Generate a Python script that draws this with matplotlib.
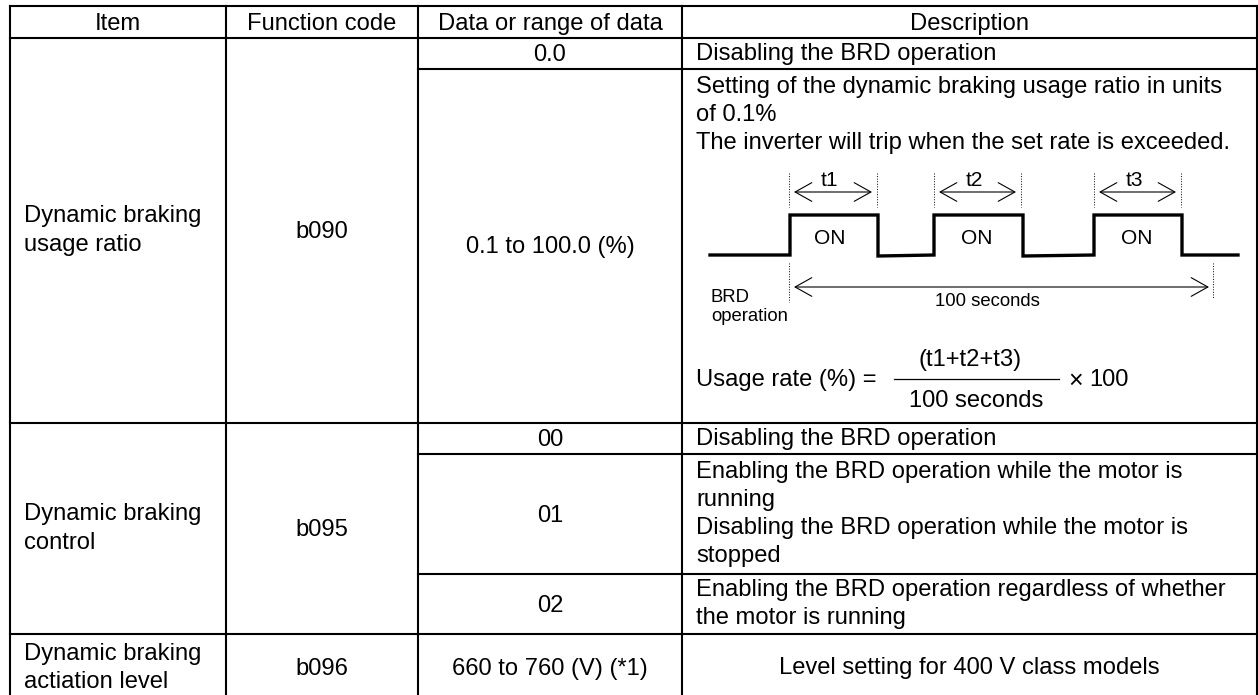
import matplotlib
matplotlib.use("Agg")
import matplotlib.pyplot as plt

# table grid, pixel positions
col_x = [10, 226, 418, 682, 1257]
row_y = [6, 38, 69, 423, 454, 574, 634, 702]

headers = ["Item", "Function code", "Data or range of data", "Description"]
items = ["Dynamic braking\nusage ratio", "Dynamic braking\ncontrol", "Dynamic braking\nactiation level"]
codes = ["b090", "b095", "b096"]
ranges = ["0.0", "0.1 to 100.0 (%)", "00", "01", "02", "660 to 760 (V) (*1)"]
desc = ["Disabling the BRD operation",
        "Setting of the dynamic braking usage ratio in units\nof 0.1%\nThe inverter will trip when the set rate is exceeded.",
        "Disabling the BRD operation",
        "Enabling the BRD operation while the motor is\nrunning\nDisabling the BRD operation while the motor is\nstopped",
        "Enabling the BRD operation regardless of whether\nthe motor is running"]
last_desc = "Level setting for 400 V class models"

# pulse diagram
wave_x = [710, 790, 790, 878, 878, 934, 934, 1023, 1023, 1094, 1094, 1182, 1182, 1238]
wave_y = [255, 255, 215, 215, 256, 255, 215, 215, 256, 255, 215, 215, 255, 255]
pulses = [("t1", 789, 877, 829, 830), ("t2", 934, 1021, 974, 977), ("t3", 1094, 1181, 1134, 1137)]

plt.rcParams['font.family'] = ['Liberation Sans', 'DejaVu Sans']
fig = plt.figure(figsize=(12.58, 6.95), dpi=100)
ax = fig.add_axes([0, 0, 1, 1])
ax.set_xlim(0, 1258)
ax.set_ylim(695, 0)
ax.axis("off")

fs = 17.1
lw = 1.5
spacing = 1.36

ax.plot([col_x[0], col_x[-1]], [row_y[0], row_y[0]], color="black", lw=lw)
ax.plot([col_x[0], col_x[-1]], [row_y[1], row_y[1]], color="black", lw=lw)
for x in col_x:
    ax.plot([x, x], [row_y[0], row_y[-1]], color="black", lw=lw)
for y in [row_y[3], row_y[6]]:
    ax.plot([col_x[0], col_x[-1]], [y, y], color="black", lw=lw)
for y in [row_y[2], row_y[4], row_y[5]]:
    ax.plot([col_x[2], col_x[-1]], [y, y], color="black", lw=lw)

for i, h in enumerate(headers):
    ax.text((col_x[i] + col_x[i + 1]) / 2, 24, h, ha="center", va="center", fontsize=fs)

item_rows = [(row_y[1], row_y[3]), (row_y[3], row_y[6]), (row_y[6], row_y[7])]
for i in range(3):
    mid = sum(item_rows[i]) / 2
    ax.text(24, mid, items[i], ha="left", va="center", fontsize=fs, linespacing=spacing)
    ax.text((col_x[1] + col_x[2]) / 2, mid + 1, codes[i], ha="center", va="center", fontsize=fs)

data_rows = [(row_y[1], row_y[2]), (row_y[2], row_y[3]), (row_y[3], row_y[4]),
             (row_y[4], row_y[5]), (row_y[5], row_y[6]), (row_y[6], row_y[7])]
for i in range(6):
    ax.text((col_x[2] + col_x[3]) / 2, sum(data_rows[i]) / 2 + 1.5, ranges[i], ha="center", va="center", fontsize=fs)

desc_top = [row_y[1], row_y[2], row_y[3], row_y[4], row_y[5]]
desc_pad = [5, 7, 5, 7, 5]
for i in range(5):
    ax.text(696, desc_top[i] + desc_pad[i], desc[i], ha="left", va="top", fontsize=fs, linespacing=spacing)
ax.text((col_x[3] + col_x[4]) / 2, sum(row_y[6:8]) / 2, last_desc, ha="center", va="center", fontsize=fs)

# pulse train
ax.plot(wave_x, wave_y, color="black", lw=2.4, solid_joinstyle="miter")
head = dict(arrowstyle="<->,head_length=0.5,head_width=0.28", lw=0.8, color="black",
            mutation_scale=24, shrinkA=0, shrinkB=0)
for name, x0, x1, tx, onx in pulses:
    ax.plot([x0, x0], [173, 207], color="black", lw=0.7, ls=":")
    ax.plot([x1, x1], [173, 207], color="black", lw=0.7, ls=":")
    ax.annotate("", xy=(x0 + 5, 192), xytext=(x1 - 5, 192), arrowprops=head)
    ax.text(tx, 180, name, ha="center", va="center", fontsize=15)
    ax.text(onx, 238, "ON", ha="center", va="center", fontsize=15)

ax.plot([789, 789], [263, 302], color="black", lw=0.7, ls=":")
ax.plot([1213, 1213], [263, 298], color="black", lw=0.7, ls=":")
ax.annotate("", xy=(794, 287), xytext=(1209, 287), arrowprops=head)
ax.text(987, 302, "100 seconds", ha="center", va="center", fontsize=13.3)
ax.text(711, 307, "BRD\noperation", ha="left", va="center", fontsize=13.3, linespacing=1.2)

# usage rate formula
ax.text(696, 380, "Usage rate (%) =", ha="left", va="center", fontsize=fs)
ax.text(970, 360, "(t1+t2+t3)", ha="center", va="center", fontsize=fs)
ax.text(976, 401, "100 seconds", ha="center", va="center", fontsize=fs)
ax.plot([894, 1059], [379, 379], color="black", lw=0.9)
ax.text(1076, 381, "\u00d7", ha="center", va="center", fontsize=18)
ax.text(1109, 380, "100", ha="center", va="center", fontsize=fs)

fig.savefig("out.png", dpi=100)
